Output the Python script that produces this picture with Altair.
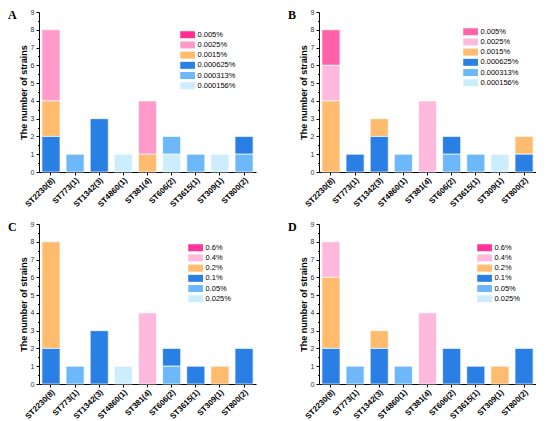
import altair as alt
import pandas as pd

categories = ["ST2230(8)", "ST773(1)", "ST1342(3)", "ST4860(1)", "ST381(4)",
              "ST606(2)", "ST3615(1)", "ST309(1)", "ST800(2)"]

levels_AB = ["0.005%", "0.0025%", "0.0015%", "0.000625%", "0.000313%", "0.000156%"]
levels_CD = ["0.6%", "0.4%", "0.2%", "0.1%", "0.05%", "0.025%"]

# counts per level (rows follow the level order), one value per category
counts_A = [
    [0, 0, 0, 0, 0, 0, 0, 0, 0],
    [4, 0, 0, 0, 3, 0, 0, 0, 0],
    [2, 0, 0, 0, 1, 0, 0, 0, 0],
    [2, 0, 3, 0, 0, 0, 0, 0, 1],
    [0, 1, 0, 0, 0, 1, 1, 0, 1],
    [0, 0, 0, 1, 0, 1, 0, 1, 0],
]
counts_B = [
    [2, 0, 0, 0, 0, 0, 0, 0, 0],
    [2, 0, 0, 0, 4, 0, 0, 0, 0],
    [4, 0, 1, 0, 0, 0, 0, 0, 1],
    [0, 1, 2, 0, 0, 1, 0, 0, 1],
    [0, 0, 0, 1, 0, 1, 1, 0, 0],
    [0, 0, 0, 0, 0, 0, 0, 1, 0],
]
counts_C = [
    [0, 0, 0, 0, 0, 0, 0, 0, 0],
    [0, 0, 0, 0, 4, 0, 0, 0, 0],
    [6, 0, 0, 0, 0, 0, 0, 1, 0],
    [2, 0, 3, 0, 0, 1, 1, 0, 2],
    [0, 1, 0, 0, 0, 1, 0, 0, 0],
    [0, 0, 0, 1, 0, 0, 0, 0, 0],
]
counts_D = [
    [0, 0, 0, 0, 0, 0, 0, 0, 0],
    [2, 0, 0, 0, 4, 0, 0, 0, 0],
    [4, 0, 1, 0, 0, 0, 0, 1, 0],
    [2, 0, 2, 0, 0, 2, 1, 0, 2],
    [0, 1, 0, 1, 0, 0, 0, 0, 0],
    [0, 0, 0, 0, 0, 0, 0, 0, 0],
]

colors_A = ["#FF2E90", "#FF9ACB", "#FFBB6E", "#2A7FE4", "#6CB8F8", "#CCEEFC"]
colors_B = ["#FF62A8", "#FFB9DD", "#FFBB6E", "#2A7FE4", "#6CB8F8", "#CCEEFC"]
colors_CD = ["#FF3399", "#FFB9DD", "#FFBB6E", "#2A7FE4", "#6CB8F8", "#CCEEFC"]

FONT = "Liberation Sans"
W, H = 217, 160


def panel(letter, levels, counts, colors, lx, ly):
    rows = []
    n = len(levels)
    for i, lev in enumerate(levels):
        for j, cat in enumerate(categories):
            c = counts[i][j]
            if c > 0:
                rows.append({"category": cat, "level": lev, "count": c, "rank": n - 1 - i})
    df = pd.DataFrame(rows)

    bars = alt.Chart(df).mark_bar(stroke="white", strokeWidth=0.7).encode(
        x=alt.X("category:N", sort=categories,
                scale=alt.Scale(paddingInner=0.25, paddingOuter=0.12),
                axis=alt.Axis(title=None, labelAngle=-45, labelFont=FONT,
                              labelFontWeight="bold", labelFontSize=8,
                              labelColor="black", domainColor="black",
                              tickColor="black", tickSize=3, labelPadding=1)),
        y=alt.Y("count:Q", stack="zero",
                scale=alt.Scale(domain=[0, 9], nice=False),
                axis=alt.Axis(title="The number of strains", titleFont=FONT,
                              titleFontWeight="bold", titleFontSize=9,
                              titleColor="black", titlePadding=2,
                              labelFont=FONT, labelFontSize=7, labelColor="#333333",
                              labelPadding=2, domainColor="black", tickColor="black",
                              grid=False, values=[k * 0.5 for k in range(19)],
                              labelExpr="datum.value % 1 ? '' : format(datum.value, 'd')",
                              tickSize={"condition": {"test": "datum.value % 1 != 0", "value": 1.5},
                                        "value": 3})),
        color=alt.Color("level:N", scale=alt.Scale(domain=levels, range=colors),
                        legend=alt.Legend(title=None, orient="none", legendX=lx, legendY=ly,
                                          symbolType="M-1,-1H3.2V1H-1Z", symbolSize=49,
                                          symbolStrokeWidth=0, symbolOpacity=1,
                                          labelFont=FONT, labelFontSize=7.5,
                                          labelColor="black", labelOffset=10,
                                          rowPadding=1.2, padding=0)),
        order=alt.Order("rank:Q", sort="ascending"),
    )
    txt = alt.Chart(pd.DataFrame({"t": [letter]})).mark_text(
        font="Liberation Serif", fontWeight="bold", fontSize=12,
        align="left", baseline="alphabetic", color="black"
    ).encode(text="t:N", x=alt.value(-31), y=alt.value(7))
    return alt.layer(bars, txt).properties(width=W, height=H)


A = panel("A", levels_AB, counts_A, colors_A, 141, 19)
B = panel("B", levels_AB, counts_B, colors_B, 144, 16)
C = panel("C", levels_CD, counts_C, colors_CD, 149, 20)
D = panel("D", levels_CD, counts_D, colors_CD, 158, 20)

row1 = alt.hconcat(A, B, spacing=32).resolve_scale(color="independent", x="independent", y="independent")
row2 = alt.hconcat(C, D, spacing=32).resolve_scale(color="independent", x="independent", y="independent")
chart = alt.vconcat(row1, row2, spacing=11).resolve_scale(
    color="independent", x="independent", y="independent"
).properties(padding=0).configure_view(strokeWidth=0)

chart.save("out.html", embed_options={"renderer": "svg", "actions": False})
